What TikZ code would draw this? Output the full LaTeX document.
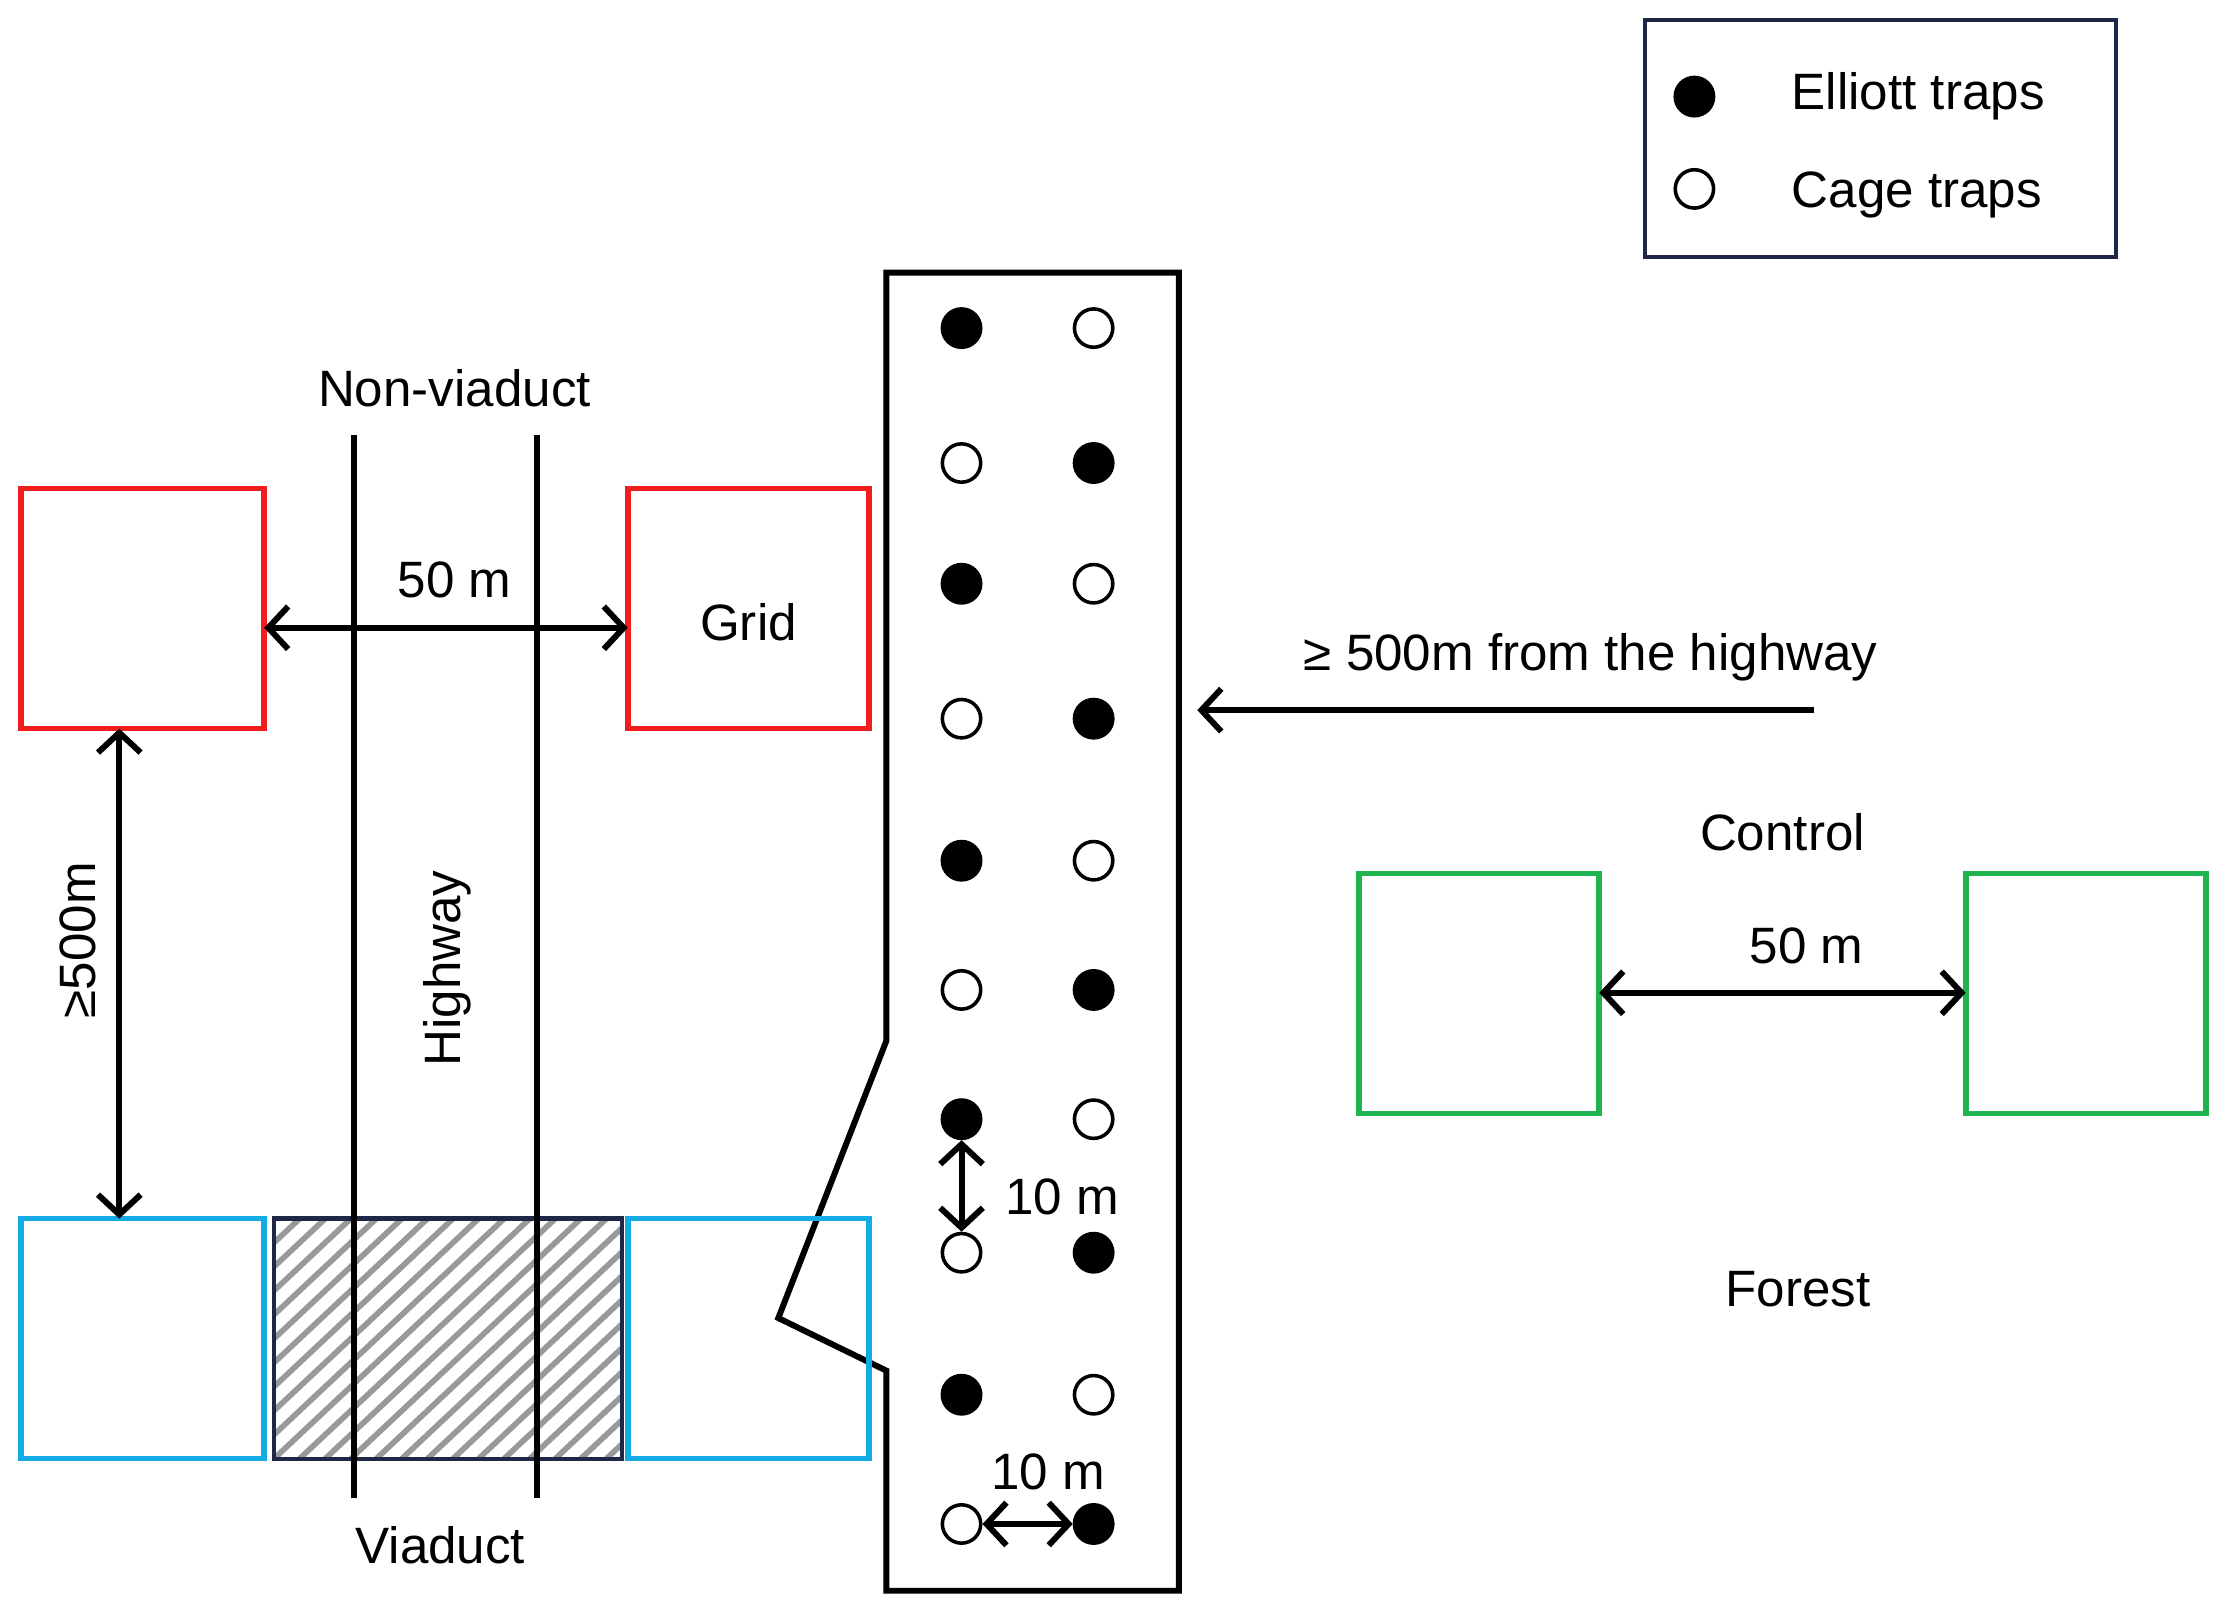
\documentclass[tikz,border=0pt]{standalone}
\usepackage{fontspec}
\setmainfont{Liberation Sans}
\usetikzlibrary{arrows.meta}
\begin{document}
\begin{tikzpicture}[x=1pt,y=-1pt,
  every node/.style={font=\fontsize{36}{42}\selectfont},
  ln/.style={line width=4.2pt},
  arr/.style={ln,{Straight Barb[length=14pt,width=30pt]}-{Straight Barb[length=14pt,width=30pt]}},
  arr1/.style={ln,-{Straight Barb[length=14pt,width=30pt]}},
  sq/.style={line width=4pt},
  full/.style={circle,fill=black,draw=black,line width=2.5pt,minimum size=27pt,inner sep=0pt},
  empty/.style={circle,fill=white,draw=black,line width=2.5pt,minimum size=27pt,inner sep=0pt}]
\useasboundingbox (0,0) rectangle (1568,1133);
\definecolor{rd}{RGB}{240,30,30}
\definecolor{bl}{RGB}{20,170,230}
\definecolor{gr}{RGB}{30,180,80}
\definecolor{nv}{RGB}{30,40,70}
% legend
\draw[line width=3pt,draw=nv] (1158,14) rectangle (1490,181);
\node[full] (lf) at (1193,68) {};
\node[empty] (le) at (1193,133) {};
\node[anchor=west] (lt1) at (1258,68) {Elliott traps};
\node[anchor=west] (lt2) at (1258,137) {Cage traps};
% trap panel
\draw[ln,line join=miter] (624,192) -- (830,192) -- (830,1120) -- (624,1120) -- (624,965) -- (548,928) -- (624,733) -- cycle;
\foreach \y [count=\i] in {231,326,411,506,606,697,788,882,982,1073}{
  \ifodd\i
    \node[full] (a\i) at (677,\y) {};
    \node[empty] (b\i) at (770,\y) {};
  \else
    \node[empty] (a\i) at (677,\y) {};
    \node[full] (b\i) at (770,\y) {};
  \fi
}
\draw[arr] (a7) -- (a8);
\node (t1) at (748,843) {10 m};
\draw[arr] (a10) -- (b10);
\node (t2) at (738,1036) {10 m};
\coordinate (hs) at (1277,500);
\coordinate (he) at (843,500);
\draw[arr1] (hs) -- (he);
\node (ht) at (1120,463) {≥ 500m from the highway};
% hatch
\begin{scope}
\clip (193,858) rectangle (438,1027);
\foreach \k in {0,18,...,460}{
  \draw[line width=4pt,gray!80] (193+\k-180,1027) -- (193+\k,858);
}
\end{scope}
\draw[line width=3pt,nv] (193,858) rectangle (438,1027);
% squares
\draw[sq,rd] (15,344) rectangle (186,513);
\draw[sq,rd] (442,344) rectangle (612,513);
\node (grid) at (527,438) {Grid};
\draw[sq,bl] (15,858) rectangle (186,1027);
\draw[sq,bl] (442,858) rectangle (612,1027);
\draw[sq,gr] (957,615) rectangle (1126,784);
\draw[sq,gr] (1384,615) rectangle (1553,784);
% highway
\coordinate (h1a) at (249,306); \coordinate (h1b) at (249,1055);
\coordinate (h2a) at (378,306); \coordinate (h2b) at (378,1055);
\draw[ln] (h1a) -- (h1b);
\draw[ln] (h2a) -- (h2b);
\node (nv) at (320,273) {Non-viaduct};
\node (vd) at (310,1088) {Viaduct};
\node[rotate=90] (hw) at (315,682) {Highway};
% arrows
\coordinate (g1) at (186,442); \coordinate (g2) at (442,442);
\draw[arr] (g1) -- (g2);
\node (d50) at (320,408) {50 m};
\coordinate (v1) at (84,513); \coordinate (v2) at (84,858);
\draw[arr] (v1) -- (v2);
\node[rotate=90] (d500) at (55,662) {≥500m};
\coordinate (c1) at (1126,699); \coordinate (c2) at (1384,699);
\draw[arr] (c1) -- (c2);
\node (c50) at (1272,666) {50 m};
\node (ctl) at (1255,586) {Control};
\node (fr) at (1266,908) {Forest};
\end{tikzpicture}
\end{document}
